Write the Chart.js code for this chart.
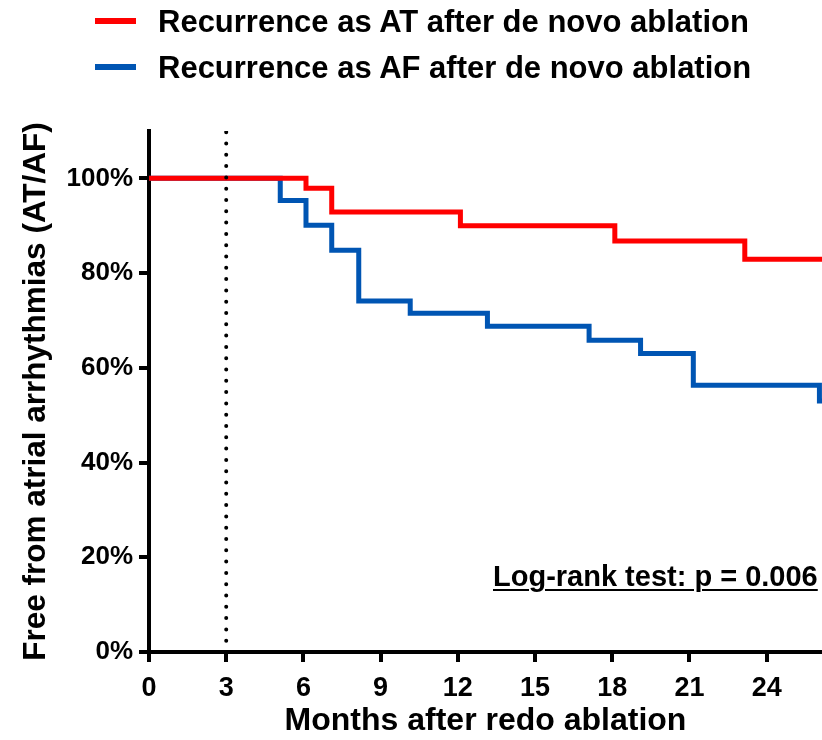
<!DOCTYPE html>
<html>
<head>
<meta charset="utf-8">
<script src="https://cdn.jsdelivr.net/npm/chart.js@4/dist/chart.umd.min.js"></script>
<style>
  html, body { margin: 0; padding: 0; background: #fff; }
  #wrap { position: relative; width: 822px; height: 740px; overflow: hidden; }
  canvas { position: absolute; left: 0; top: 0; }
  .font { font-family: 'Liberation Sans', Arial, Helvetica, sans-serif; font-weight: bold; color: #000; }
  .leg { position: absolute; left: 95px; height: 31px; line-height: 31px; font-size: 31px; white-space: nowrap; }
  .leg .sw { position: absolute; left: 0; top: 12.5px; width: 41px; height: 6px; }
  .leg .tx { position: absolute; left: 63px; top: 0; }
  #note { position: absolute; left: 493px; top: 562px; font-size: 29px; line-height: 29px; white-space: nowrap;
          text-decoration: underline; text-decoration-thickness: 2px; text-underline-offset: 3px; }
</style>
</head>
<body>
<div id="wrap">
  <canvas id="c" width="822" height="740"></canvas>
  <div class="leg font" style="top:5.5px"><span class="sw" style="background:#FF0000"></span><span class="tx" id="l1"></span></div>
  <div class="leg font" style="top:51.5px"><span class="sw" style="background:#0055B3"></span><span class="tx" id="l2"></span></div>
  <div id="note" class="font"></div>
</div>
<script>
// ---- data ----
const seriesNames = ['Recurrence as AT after de novo ablation', 'Recurrence as AF after de novo ablation'];
const atMonths   = [0, 6.1, 7.1, 12.1, 18.1, 23.15, 26.15];
const atSurvival = [100, 97.9, 92.9, 90.0, 86.8, 82.9, 82.9];
const afMonths   = [0, 5.1, 6.1, 7.1, 8.15, 10.15, 13.15, 17.1, 19.1, 21.15, 26.05, 26.15];
const afSurvival = [100, 95.3, 90.1, 84.8, 74.1, 71.5, 68.8, 65.8, 63.0, 56.3, 53.0, 53.0];
const refLineX = [3, 3];
const refLineY = [0, 110];
const xTickValues = [0, 3, 6, 9, 12, 15, 18, 21, 24];
const yTickValues = [0, 20, 40, 60, 80, 100];
const xTitle = 'Months after redo ablation';
const yTitle = 'Free from atrial arrhythmias (AT/AF)';
const noteText = 'Log-rank test: p = 0.006';

document.getElementById('l1').textContent = seriesNames[0];
document.getElementById('l2').textContent = seriesNames[1];
document.getElementById('note').textContent = noteText;

const toPts = (xs, ys) => xs.map((x, i) => ({ x: x, y: ys[i] }));
const FONT = "'Liberation Sans', Arial, Helvetica, sans-serif";

new Chart(document.getElementById('c'), {
  type: 'line',
  data: {
    datasets: [
      { label: 'ref', data: toPts(refLineX, refLineY), borderColor: '#000', borderWidth: 4,
        borderDash: [0, 11.3], borderCapStyle: 'round', pointRadius: 0, fill: false },
      { label: seriesNames[0], data: toPts(atMonths, atSurvival), borderColor: '#FF0000', borderWidth: 5,
        stepped: 'before', pointRadius: 0, fill: false, borderJoinStyle: 'miter', borderCapStyle: 'butt' },
      { label: seriesNames[1], data: toPts(afMonths, afSurvival), borderColor: '#0055B3', borderWidth: 5,
        stepped: 'before', pointRadius: 0, fill: false, borderJoinStyle: 'miter', borderCapStyle: 'butt' }
    ]
  },
  options: {
    responsive: false,
    animation: false,
    layout: { padding: { top: 131, right: 0, left: 0, bottom: 0 } },
    plugins: { legend: { display: false }, tooltip: { enabled: false } },
    scales: {
      x: {
        type: 'linear', min: 0, max: 26.15,
        afterBuildTicks: s => { s.ticks = xTickValues.map(v => ({ value: v })); },
        afterFit: s => { s.height = 88; },
        ticks: { color: '#000', padding: 10, font: { family: FONT, size: 27, weight: 'bold' }, maxRotation: 0 },
        grid: { drawOnChartArea: false, drawTicks: true, tickLength: 10, color: '#000', lineWidth: 4 },
        border: { display: true, color: '#000', width: 4 },
        title: { display: true, text: xTitle, color: '#000', padding: { top: 0, bottom: 0 },
                 font: { family: FONT, size: 32, weight: 'bold' } }
      },
      y: {
        type: 'linear', min: 0, max: 110,
        afterBuildTicks: s => { s.ticks = yTickValues.map(v => ({ value: v })); },
        afterFit: s => { s.width = 149; },
        ticks: { color: '#000', padding: 6, callback: v => v + '%', font: { family: FONT, size: 26, weight: 'bold' } },
        grid: { drawOnChartArea: false, drawTicks: true, tickLength: 10, color: '#000', lineWidth: 4 },
        border: { display: true, color: '#000', width: 4 },
        title: { display: true, text: yTitle, color: '#000', padding: { top: 17, bottom: 0 },
                 font: { family: FONT, size: 31.5, weight: 'bold' } }
      }
    }
  }
});
</script>
</body>
</html>
